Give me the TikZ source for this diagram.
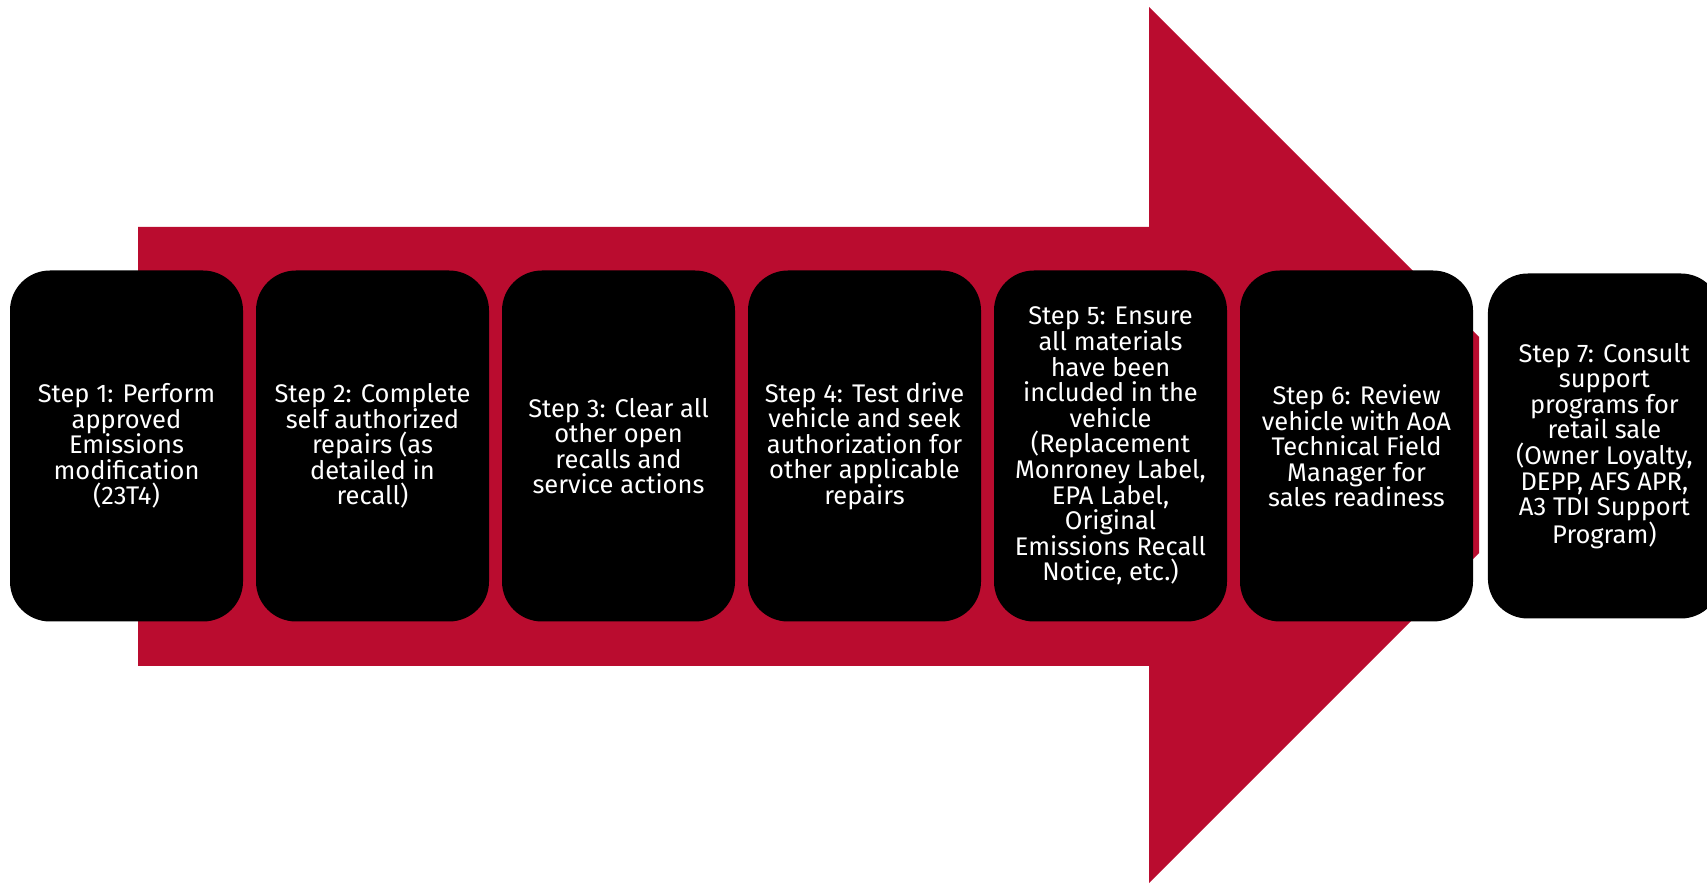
\documentclass[tikz,border=0pt]{standalone}
\usepackage{fontspec}
\setmainfont{Fira Sans}
\usetikzlibrary{positioning}
\definecolor{arrowred}{HTML}{BA0C2F}
\begin{document}
\begin{tikzpicture}[x=1pt,y=1pt,
		stepbox/.style={rectangle,rounded corners=40pt,fill=black,text=white,align=center,
			minimum width=233pt,minimum height=351pt,inner sep=0pt,
			font=\fontsize{25.5}{25.6}\selectfont},
		lastbox/.style={stepbox,minimum height=345pt}]
		\useasboundingbox (0,0) rectangle (1707,883);
		\clip (0,0) rectangle (1707,883);
		% big arrow behind the steps (tip cut off)
		\fill[arrowred] (138,217) -- (138,656) -- (1149,656) -- (1149,876) -- (1479,546)
			-- (1479,330) -- (1149,0) -- (1149,217) -- cycle;
		% steps
		\node [stepbox] (s1) at (126.5,437) {Step 1: Perform\\approved\\Emissions\\modification\\(23T4)};
		\node [stepbox,right=12.6pt of s1] (s2) {Step 2: Complete\\self authorized\\repairs (as\\detailed in\\recall)};
		\node [stepbox,right=12.6pt of s2] (s3) {Step 3: Clear all\\other open\\recalls and\\service actions};
		\node [stepbox,right=12.6pt of s3] (s4) {Step 4: Test drive\\vehicle and seek\\authorization for\\other applicable\\repairs};
		\node [stepbox,right=12.6pt of s4] (s5) {Step 5: Ensure\\all materials\\have been\\included in the\\vehicle\\(Replacement\\Monroney Label,\\EPA Label,\\Original\\Emissions Recall\\Notice, etc.)};
		\node [stepbox,right=12.6pt of s5] (s6) {Step 6: Review\\vehicle with AoA\\Technical Field\\Manager for\\sales readiness};
		\node [lastbox,right=14.5pt of s6] (s7) {Step 7: Consult\\support\\programs for\\retail sale\\(Owner Loyalty,\\DEPP, AFS APR,\\A3 TDI Support\\Program)};
	\end{tikzpicture}
\end{document}
